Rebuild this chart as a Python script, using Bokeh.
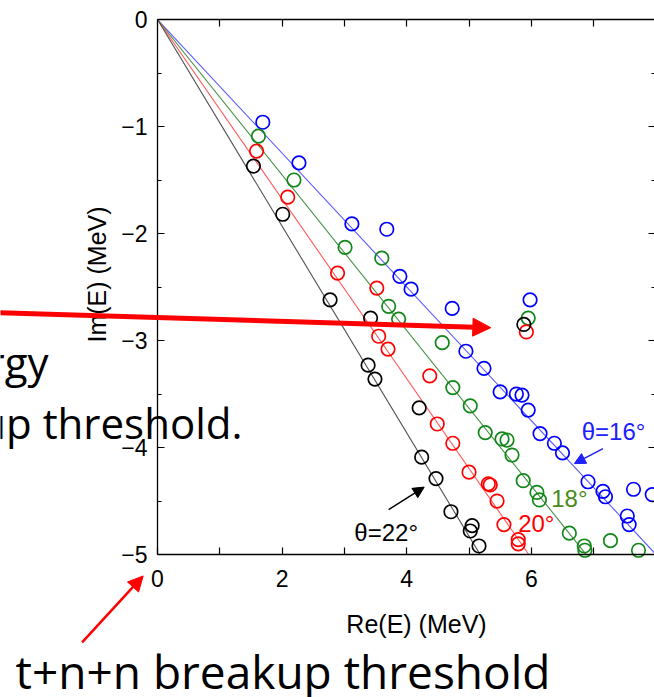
import math
from bokeh.plotting import figure
from bokeh.models import Range1d, LinearAxis, FixedTicker, Label, Arrow, NormalHead
from bokeh.embed import file_html
from bokeh.resources import INLINE

# ---- data ----
thetas = [16, 18, 20, 22]
colors = ["#0000ff", "#11871a", "#ff0000", "#000000"]
line_colors = ["#5a5aff", "#4a8f4a", "#ff5a5a", "#505050"]

re16 = [1.69, 2.27, 3.12, 3.68, 3.89, 4.07, 4.73, 5.98, 4.95, 5.24, 5.50, 5.76, 5.85, 5.95,
        6.14, 6.37, 6.50, 6.91, 7.15, 7.19, 7.64, 7.94, 7.54, 7.57]
im16 = [-0.96, -1.34, -1.91, -1.96, -2.40, -2.52, -2.70, -2.62, -3.10, -3.26, -3.48, -3.50, -3.51, -3.65,
        -3.87, -3.96, -4.05, -4.32, -4.41, -4.46, -4.39, -4.44, -4.64, -4.72]

re18 = [1.62, 2.19, 3.01, 3.60, 3.71, 3.87, 4.57, 5.95, 4.74, 5.02, 5.26, 5.53, 5.61, 5.69,
        5.87, 6.09, 6.13, 6.61, 6.85, 6.86, 7.27, 7.72]
im18 = [-1.09, -1.50, -2.13, -2.23, -2.68, -2.80, -3.02, -2.79, -3.44, -3.61, -3.86, -3.92, -3.93, -4.07,
        -4.31, -4.42, -4.49, -4.80, -4.92, -4.96, -4.87, -4.96]

re20 = [1.59, 2.09, 2.89, 3.52, 3.55, 3.70, 4.37, 4.49, 4.74, 5.00, 5.31, 5.34, 5.45, 5.56,
        5.79, 5.79, 5.92]
im20 = [-1.23, -1.66, -2.37, -2.51, -2.96, -3.08, -3.33, -3.78, -3.96, -4.23, -4.34, -4.35, -4.50, -4.72,
        -4.86, -4.90, -2.92]

re22 = [1.54, 2.01, 2.77, 3.42, 3.38, 3.49, 4.20, 4.24, 4.47, 4.71, 5.05, 5.02, 5.16, 5.88]
im22 = [-1.37, -1.82, -2.62, -2.79, -3.23, -3.36, -3.63, -4.09, -4.29, -4.60, -4.73, -4.78, -4.92, -2.85]

series_re = [re16, re18, re20, re22]
series_im = [im16, im18, im20, im22]

x_ticks = [0, 2, 4, 6, 8]
x_minor_ticks = [1, 3, 5, 7]
x_all_ticks = [1, 2, 3, 4, 5, 6, 7]
y_ticks = [-5, -4, -3, -2, -1, 0]
y_tick_labels = ["\u22125", "\u22124", "\u22123", "\u22122", "\u22121", "0"]
y_minor_ticks = [-4.5, -3.5, -2.5, -1.5, -0.5]
y_inner_ticks = [-4, -3, -2, -1]

# axis box in data units
X_LO, X_HI = 0, 8
Y_LO, Y_HI = -5, 0

# visible window (data units) - the axes box sits inside a wider canvas
VIEW_X = (-2.520, 7.977)
VIEW_Y = (-6.336, 0.1776)

TICK_FONT = "Liberation Sans"

p = figure(width=654, height=697, output_backend="svg", toolbar_location=None, title=None,
           x_range=Range1d(*VIEW_X), y_range=Range1d(*VIEW_Y),
           x_axis_location=None, y_axis_location=None,
           min_border=0, min_border_left=0, min_border_right=0, min_border_top=0, min_border_bottom=0)
p.outline_line_color = None
p.xgrid.visible = False
p.ygrid.visible = False
p.background_fill_color = "white"
p.border_fill_color = "white"


def make_axis(ticks, minor, loc, bounds, major_in, minor_in):
    ax = LinearAxis(ticker=FixedTicker(ticks=ticks, minor_ticks=minor), fixed_location=loc, bounds=bounds)
    ax.major_tick_in = major_in
    ax.major_tick_out = 0
    ax.minor_tick_in = minor_in
    ax.minor_tick_out = 0
    ax.axis_line_color = "#000000"
    ax.axis_line_width = 1.3
    ax.major_tick_line_color = "#000000"
    ax.minor_tick_line_color = "#000000"
    ax.major_tick_line_width = 1.2
    ax.minor_tick_line_width = 1.2
    ax.major_label_text_font = TICK_FONT
    ax.major_label_text_font_size = "23px"
    ax.major_label_text_color = "#000000"
    return ax


xb = make_axis(x_ticks, x_minor_ticks, Y_LO, (X_LO, X_HI), 7, 7)
xb.major_label_standoff = 15
p.add_layout(xb, "below")

xt = make_axis([], x_all_ticks, Y_HI, (X_LO, X_HI), 7, 7)
p.add_layout(xt, "above")

yl = make_axis(y_ticks, y_minor_ticks, X_LO, (Y_LO, Y_HI), 7, 4)
yl.major_label_overrides = {t: s for t, s in zip(y_ticks, y_tick_labels)}
yl.major_label_standoff = 10
p.add_layout(yl, "left")

yr1 = make_axis([], y_inner_ticks, X_HI, (Y_LO, Y_HI), 7, 7)
yr1.axis_line_color = None
p.add_layout(yr1, "right")
yr2 = make_axis([], y_minor_ticks, X_HI, (Y_LO, Y_HI), 4, 4)
yr2.axis_line_color = None
p.add_layout(yr2, "right")

# rotation lines: Im = -tan(2 theta) * Re
for th, lc in zip(thetas, line_colors):
    slope = math.tan(math.radians(2 * th))
    x_end = -Y_LO / slope
    p.line([0, x_end], [0, -slope * x_end], line_color=lc, line_width=1.1)

for xs, ys, c in zip(series_re, series_im, colors):
    p.scatter(xs, ys, marker="circle", size=13.5, fill_color=None, line_color=c, line_width=1.7)

# theta labels
lab_font = "Liberation Sans"
p.add_layout(Label(x=7.32, y=-3.85, text="\u03b8=16\u00b0", text_color="#2020ff", text_font=lab_font,
                   text_font_size="24px", text_align="center", text_baseline="middle"))
p.add_layout(Label(x=6.61, y=-4.48, text="18\u00b0", text_color="#4a8a1a", text_font=lab_font,
                   text_font_size="24px", text_align="center", text_baseline="middle"))
p.add_layout(Label(x=6.08, y=-4.71, text="20\u00b0", text_color="#ff0000", text_font=lab_font,
                   text_font_size="24px", text_align="center", text_baseline="middle"))
p.add_layout(Label(x=3.67, y=-4.79, text="\u03b8=22\u00b0", text_color="#000000", text_font=lab_font,
                   text_font_size="24px", text_align="center", text_baseline="middle"))

p.add_layout(Arrow(x_start=7.15, y_start=-4.01, x_end=6.69, y_end=-4.15, line_color="#2020ff", line_width=1.5,
                   end=NormalHead(size=11, fill_color="#2020ff", line_color="#2020ff")))
p.add_layout(Arrow(x_start=3.71, y_start=-4.58, x_end=4.28, y_end=-4.37, line_color="#000000", line_width=1.5,
                   end=NormalHead(size=11, fill_color="#000000", line_color="#000000")))

# axis titles
p.add_layout(Label(x=4.157, y=-5.645, text="Re(E) (MeV)", text_font=lab_font, text_font_size="25px",
                   text_color="#000000", text_align="center", text_baseline="middle"))
p.add_layout(Label(x=-0.979, y=-2.383, text="Im(E) (MeV)", text_font=lab_font, text_font_size="25px",
                   text_color="#000000", text_align="center", text_baseline="middle", angle=math.pi / 2))

# slide annotations
slide_font = "Open Sans"
p.add_layout(Label(x=-1.75, y=-3.196, text="rgy", text_font=slide_font, text_font_size="42px",
                   text_color="#000000", text_align="right", text_baseline="alphabetic"))
p.add_layout(Label(x=1.364, y=-3.767, text="up threshold.", text_font=slide_font, text_font_size="42px",
                   text_color="#000000", text_align="right", text_baseline="alphabetic"))
p.add_layout(Label(x=-2.279, y=-6.084, text="t+n+n breakup threshold", text_font=slide_font,
                   text_font_size="46px", text_color="#000000", text_align="left", text_baseline="alphabetic"))

p.add_layout(Arrow(x_start=-2.56, y_start=-2.74, x_end=5.35, y_end=-2.88, line_color="#ff0000", line_width=5,
                   end=NormalHead(size=18, fill_color="#ff0000", line_color="#ff0000")))
p.add_layout(Arrow(x_start=-1.21, y_start=-5.82, x_end=-0.23, y_end=-5.20, line_color="#ff0000", line_width=2.5,
                   end=NormalHead(size=15, fill_color="#ff0000", line_color="#ff0000")))

open("out.html", "w").write(file_html(p, INLINE))
